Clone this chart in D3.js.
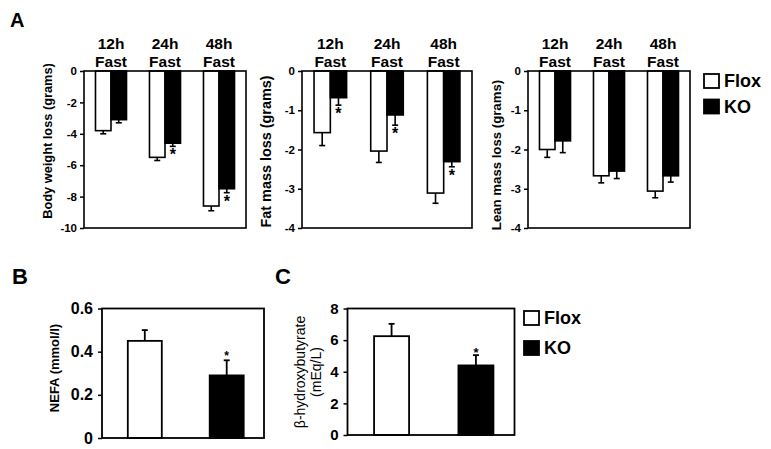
<!DOCTYPE html>
<html>
<head>
<meta charset="utf-8">
<script src="https://cdn.jsdelivr.net/npm/d3@7"></script>
<style>
  html, body { margin: 0; padding: 0; background: #fff; }
  svg { display: block; font-family: "Liberation Sans", Arial, Helvetica, sans-serif; }
</style>
</head>
<body>
<svg id="chart" width="771" height="449"></svg>
<script>
// ---------- DATA ----------
const fastCats = ["12h", "24h", "48h"];
const seriesNames = ["Flox", "KO"];

const bodyFlox = [-3.8, -5.5, -8.6];
const bodyFloxErr = [0.2, 0.2, 0.3];
const bodyKO = [-3.1, -4.6, -7.5];
const bodyKOErr = [0.2, 0.2, 0.25];
const bodySig = [false, true, true];
const bodyTicks = [0, -2, -4, -6, -8, -10];

const fatFlox = [-1.57, -2.04, -3.11];
const fatFloxErr = [0.33, 0.29, 0.26];
const fatKO = [-0.68, -1.12, -2.31];
const fatKOErr = [0.19, 0.26, 0.13];
const fatSig = [true, true, true];
const fatTicks = [0, -1, -2, -3, -4];

const leanFlox = [-2.0, -2.67, -3.06];
const leanFloxErr = [0.2, 0.18, 0.17];
const leanKO = [-1.78, -2.55, -2.67];
const leanKOErr = [0.3, 0.19, 0.16];
const leanSig = [false, false, false];
const leanTicks = [0, -1, -2, -3, -4];

const nefaVals = [0.45, 0.29];
const nefaErr = [0.05, 0.07];
const nefaSig = [false, true];
const nefaTicks = [0, 0.2, 0.4, 0.6];

const bhbVals = [6.25, 4.4];
const bhbErr = [0.78, 0.65];
const bhbSig = [false, true];
const bhbTicks = [0, 2, 4, 6, 8];

// ---------- DRAWING ----------
const svg = d3.select("#chart");
svg.append("rect").attr("width", 771).attr("height", 449).attr("fill", "#fff");
const fill = {Flox: "#fff", KO: "#000"};

function yAxis(g, y, ticks, fontSize, fmt) {
  const ax = d3.axisLeft(y).tickValues(ticks).tickSize(4).tickPadding(3)
    .tickFormat(fmt || (d => d3.format("")(d).replace("\u2212", "-")));
  g.call(ax);
  g.select(".domain").remove();
  g.selectAll(".tick line").attr("stroke", "#000").attr("stroke-width", 1.5);
  g.selectAll(".tick text").attr("font-size", fontSize).attr("font-weight", "bold")
    .attr("fill", "#000").attr("font-family", "Liberation Sans, Arial, sans-serif");
}

function panelA(cfg) {
  const g = svg.append("g");
  const y = d3.scaleLinear().domain([cfg.ticks[cfg.ticks.length - 1], 0]).range([cfg.y1, cfg.y0]);
  const xg = d3.scaleBand().domain(fastCats).range([cfg.x0, cfg.x1]).padding(0);
  const xs = d3.scaleBand().domain(seriesNames).range([0, xg.step()]).paddingInner(0).paddingOuter(0.74);

  const rows = [];
  fastCats.forEach((c, i) => {
    rows.push({cat: c, s: "Flox", v: cfg.flox[i], e: cfg.floxErr[i], sig: false});
    rows.push({cat: c, s: "KO", v: cfg.ko[i], e: cfg.koErr[i], sig: cfg.sig[i]});
  });

  rows.forEach(d => {
    const cx = xg(d.cat) + xs(d.s) + xs.bandwidth() / 2;
    g.append("line").attr("x1", cx).attr("x2", cx)
      .attr("y1", y(d.v)).attr("y2", y(d.v - d.e)).attr("stroke", "#000").attr("stroke-width", 1.6);
    g.append("line").attr("x1", cx - 3).attr("x2", cx + 3)
      .attr("y1", y(d.v - d.e)).attr("y2", y(d.v - d.e)).attr("stroke", "#000").attr("stroke-width", 1.6);
    if (d.sig) {
      g.append("text").attr("x", cx).attr("y", y(d.v - d.e) + 14)
        .attr("text-anchor", "middle").attr("font-size", 16).attr("font-weight", "bold").text("*");
    }
  });

  g.selectAll("rect.bar").data(rows).enter().append("rect")
    .attr("class", "bar")
    .attr("x", d => xg(d.cat) + xs(d.s))
    .attr("width", xs.bandwidth())
    .attr("y", y(0))
    .attr("height", d => y(d.v) - y(0))
    .attr("fill", d => fill[d.s])
    .attr("stroke", "#000").attr("stroke-width", 1.6);

  g.append("rect").attr("x", cfg.x0).attr("y", cfg.y0)
    .attr("width", cfg.x1 - cfg.x0).attr("height", cfg.y1 - cfg.y0)
    .attr("fill", "none").attr("stroke", "#000").attr("stroke-width", 1.6);

  const ag = g.append("g").attr("transform", `translate(${cfg.x0},0)`);
  yAxis(ag, y, cfg.ticks, 11.5);

  fastCats.forEach(c => {
    const cx = xg(c) + xg.bandwidth() / 2;
    g.append("text").attr("x", cx).attr("y", 49.3).attr("text-anchor", "middle")
      .attr("font-size", 15.5).attr("font-weight", "bold").text(c);
    g.append("text").attr("x", cx).attr("y", 66.7).attr("text-anchor", "middle")
      .attr("font-size", 15.5).attr("font-weight", "bold").text("Fast");
  });

  g.append("text")
    .attr("transform", `translate(${cfg.tx},${cfg.ty}) rotate(-90)`)
    .attr("text-anchor", "middle").attr("font-size", cfg.tsize).attr("font-weight", "bold")
    .text(cfg.title);
}

panelA({x0: 84, x1: 246, y0: 71, y1: 228, ticks: bodyTicks,
  flox: bodyFlox, floxErr: bodyFloxErr, ko: bodyKO, koErr: bodyKOErr, sig: bodySig,
  title: "Body weight loss (grams)", tsize: 12.8, tx: 52, ty: 141});
panelA({x0: 302, x1: 472, y0: 71, y1: 228, ticks: fatTicks,
  flox: fatFlox, floxErr: fatFloxErr, ko: fatKO, koErr: fatKOErr, sig: fatSig,
  title: "Fat mass loss (grams)", tsize: 14.4, tx: 271, ty: 151.5});
panelA({x0: 528, x1: 690, y0: 71, y1: 228, ticks: leanTicks,
  flox: leanFlox, floxErr: leanFloxErr, ko: leanKO, koErr: leanKOErr, sig: leanSig,
  title: "Lean mass loss (grams)", tsize: 13.2, tx: 501, ty: 155});

function legend(x, yTop, gap, boxW, boxH, fontSize) {
  seriesNames.forEach((s, i) => {
    const yy = yTop + i * gap;
    svg.append("rect").attr("x", x).attr("y", yy).attr("width", boxW).attr("height", boxH)
      .attr("fill", fill[s]).attr("stroke", "#000").attr("stroke-width", 1.8);
    svg.append("text").attr("x", x + boxW + 5).attr("y", yy + boxH / 2 + fontSize * 0.36)
      .attr("font-size", fontSize).attr("font-weight", "bold").text(s);
  });
}
legend(704, 74, 25.5, 15, 14, 18);
legend(524, 311, 30, 15, 14, 18);

svg.append("text").attr("x", 10).attr("y", 26.5).attr("font-size", 20).attr("font-weight", "bold").text("A");
svg.append("text").attr("x", 12).attr("y", 283.5).attr("font-size", 22).attr("font-weight", "bold").text("B");
svg.append("text").attr("x", 275).attr("y", 283.5).attr("font-size", 22).attr("font-weight", "bold").text("C");

function panelSimple(cfg) {
  const g = svg.append("g");
  const y = d3.scaleLinear().domain([0, cfg.ticks[cfg.ticks.length - 1]]).range([cfg.y1, cfg.y0]);
  const x = d3.scaleBand().domain(seriesNames).range([cfg.bx0, cfg.bx1]).paddingInner(0.585).paddingOuter(0.315);
  const rows = seriesNames.map((s, i) => ({s, v: cfg.vals[i], e: cfg.err[i], sig: cfg.sig[i]}));

  rows.forEach(d => {
    const cx = x(d.s) + x.bandwidth() / 2;
    g.append("line").attr("x1", cx).attr("x2", cx).attr("y1", y(d.v)).attr("y2", y(d.v + d.e))
      .attr("stroke", "#000").attr("stroke-width", 1.8);
    g.append("line").attr("x1", cx - 3).attr("x2", cx + 3).attr("y1", y(d.v + d.e)).attr("y2", y(d.v + d.e))
      .attr("stroke", "#000").attr("stroke-width", 1.8);
    if (d.sig) {
      g.append("text").attr("x", cx).attr("y", y(d.v + d.e) + cfg.starDy)
        .attr("text-anchor", "middle").attr("font-size", cfg.starSize).attr("font-weight", "bold").text("*");
    }
  });
  g.selectAll("rect.bar").data(rows).enter().append("rect")
    .attr("x", d => x(d.s)).attr("width", x.bandwidth())
    .attr("y", d => y(d.v)).attr("height", d => y(0) - y(d.v))
    .attr("fill", d => fill[d.s]).attr("stroke", "#000").attr("stroke-width", 1.8);

  g.append("rect").attr("x", cfg.x0).attr("y", cfg.y0)
    .attr("width", cfg.x1 - cfg.x0).attr("height", cfg.y1 - cfg.y0)
    .attr("fill", "none").attr("stroke", "#000").attr("stroke-width", 1.8);
  const ag = g.append("g").attr("transform", `translate(${cfg.x0},0)`);
  yAxis(ag, y, cfg.ticks, cfg.tickSize, cfg.fmt);
  ag.selectAll(".tick text").attr("x", -9);
  return g;
}

const gB = panelSimple({x0: 102, x1: 264, y0: 308.5, y1: 438, bx0: 102, bx1: 269.5,
  ticks: nefaTicks, vals: nefaVals, err: nefaErr, sig: nefaSig, starDy: 0, starSize: 12, tickSize: 16,
  fmt: d => d === 0 ? "0" : d3.format(".1f")(d)});
gB.append("text").attr("transform", "translate(59,368) rotate(-90)")
  .attr("text-anchor", "middle").attr("font-size", 13).attr("font-weight", "bold").text("NEFA (mmol/l)");

const gC = panelSimple({x0: 347.5, x1: 514.5, y0: 308.5, y1: 435, bx0: 347.5, bx1: 520,
  ticks: bhbTicks, vals: bhbVals, err: bhbErr, sig: bhbSig, starDy: 2, starSize: 13, tickSize: 15,
  fmt: d3.format("d")});
gC.append("text").attr("transform", "translate(305,372) rotate(-90)")
  .attr("text-anchor", "middle").attr("font-size", 14).text("\u03B2-hydroxybutyrate");
gC.append("text").attr("transform", "translate(321,372) rotate(-90)")
  .attr("text-anchor", "middle").attr("font-size", 14).text("(mEq/L)");
</script>
</body>
</html>
